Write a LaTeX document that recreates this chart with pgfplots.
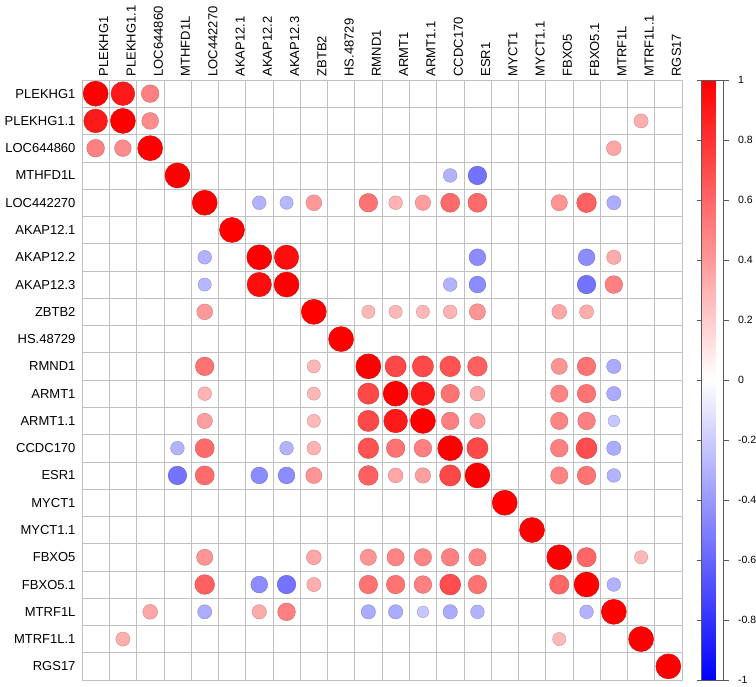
\documentclass[border=0pt]{standalone}
\usepackage{pgfplots}
\usepackage{pgfplotstable}
\pgfplotsset{compat=1.18}
\usepackage{fontspec}
\setmainfont{Liberation Sans}
\definecolor{gridgray}{RGB}{192,192,192}

\pgfplotstableread{
x y r
0 0 1
1 1 1
2 2 1
3 3 1
4 4 1
5 5 1
6 6 1
7 7 1
8 8 1
9 9 1
10 10 1
11 11 1
12 12 1
13 13 1
14 14 1
15 15 1
16 16 1
17 17 1
18 18 1
19 19 1
20 20 1
21 21 1
0 1 0.9
0 2 0.5
1 2 0.45
1 20 0.32
2 19 0.35
3 13 -0.3
3 14 -0.55
4 6 -0.3
4 7 -0.28
4 8 0.4
4 10 0.55
4 11 0.3
4 12 0.38
4 13 0.58
4 14 0.58
4 17 0.42
4 18 0.62
4 19 -0.32
6 7 0.95
6 14 -0.45
6 18 -0.45
6 19 0.33
7 13 -0.3
7 14 -0.45
7 18 -0.55
7 19 0.5
8 10 0.28
8 11 0.28
8 12 0.28
8 13 0.3
8 14 0.42
8 17 0.35
8 18 0.32
10 11 0.72
10 12 0.72
10 13 0.68
10 14 0.62
10 17 0.42
10 18 0.55
10 19 -0.33
11 12 0.9
11 13 0.55
11 14 0.35
11 17 0.48
11 18 0.55
11 19 -0.33
12 13 0.5
12 14 0.38
12 17 0.48
12 18 0.5
12 19 -0.22
13 14 0.72
13 17 0.5
13 18 0.7
13 19 -0.33
14 17 0.48
14 18 0.55
14 19 -0.3
17 18 0.6
17 20 0.28
18 19 -0.3
1 0 0.9
2 0 0.5
2 1 0.45
20 1 0.32
19 2 0.35
13 3 -0.3
14 3 -0.55
6 4 -0.3
7 4 -0.28
8 4 0.4
10 4 0.55
11 4 0.3
12 4 0.38
13 4 0.58
14 4 0.58
17 4 0.42
18 4 0.62
19 4 -0.32
7 6 0.95
14 6 -0.45
18 6 -0.45
19 6 0.33
13 7 -0.3
14 7 -0.45
18 7 -0.55
19 7 0.5
10 8 0.28
11 8 0.28
12 8 0.28
13 8 0.3
14 8 0.42
17 8 0.35
18 8 0.32
11 10 0.72
12 10 0.72
13 10 0.68
14 10 0.62
17 10 0.42
18 10 0.55
19 10 -0.33
12 11 0.9
13 11 0.55
14 11 0.35
17 11 0.48
18 11 0.55
19 11 -0.33
13 12 0.5
14 12 0.38
17 12 0.48
18 12 0.5
19 12 -0.22
14 13 0.72
17 13 0.5
18 13 0.7
19 13 -0.33
17 14 0.48
18 14 0.55
19 14 -0.3
18 17 0.6
20 17 0.28
19 18 -0.3
}\corrdata

\begin{document}
\begin{tikzpicture}
\begin{axis}[
  name=main,
  scale only axis,
  width=600pt, height=600pt,
  xmin=-0.5, xmax=21.5, ymin=-0.5, ymax=21.5,
  y dir=reverse,
  axis line style={gridgray},
  xtick={0,...,21}, ytick={0,...,21},
  xticklabels={PLEKHG1,PLEKHG1.1,LOC644860,MTHFD1L,LOC442270,AKAP12.1,AKAP12.2,AKAP12.3,ZBTB2,HS.48729,RMND1,ARMT1,ARMT1.1,CCDC170,ESR1,MYCT1,MYCT1.1,FBXO5,FBXO5.1,MTRF1L,MTRF1L.1,RGS17},
  yticklabels={PLEKHG1,PLEKHG1.1,LOC644860,MTHFD1L,LOC442270,AKAP12.1,AKAP12.2,AKAP12.3,ZBTB2,HS.48729,RMND1,ARMT1,ARMT1.1,CCDC170,ESR1,MYCT1,MYCT1.1,FBXO5,FBXO5.1,MTRF1L,MTRF1L.1,RGS17},
  xticklabel pos=right,
  xticklabel style={rotate=90, anchor=north west, font=\fontsize{13}{15}\selectfont},
  yticklabel style={anchor=east, font=\fontsize{13}{15}\selectfont, xshift=-3pt},
  major tick length=0pt,
  minor tick length=0pt,
  minor xtick={-0.5,0.5,...,21.5},
  minor ytick={-0.5,0.5,...,21.5},
  xminorgrids, yminorgrids,
  minor grid style={gridgray, line width=0.6pt},
  colormap={bwr}{rgb255=(0,0,255) rgb255=(255,255,255) rgb255=(255,0,0)},
  point meta min=-1, point meta max=1,
  colorbar,
  colorbar style={
    scale only axis,
    at={(parent axis.north east)}, anchor=north west, xshift=11pt,
    width=22pt, height=600pt,
    axis line style={black!65},
    ytick={-1,-0.8,-0.6,-0.4,-0.2,0,0.2,0.4,0.6,0.8,1},
    yticklabel pos=right,
    tick align=outside,
    major tick length=5pt,
    tick style={black!65},
    yticklabel style={font=\fontsize{10.5}{12}\selectfont, /pgf/number format/fixed, /pgf/number format/assume math mode=true, xshift=6pt},
  },
]
\addplot[
  scatter, only marks, mark=*,
  point meta=explicit,
  visualization depends on={12.5*sqrt(abs(\thisrow{r})) \as \rad},
  scatter/@pre marker code/.append style={/tikz/mark size=\rad pt},
] table[x=x, y=y, meta=r] {\corrdata};
\end{axis}
\pgfresetboundingbox
\path (main.south west) ++(-82pt,-7pt) rectangle ++(756pt,687pt);
\end{tikzpicture}
\end{document}
